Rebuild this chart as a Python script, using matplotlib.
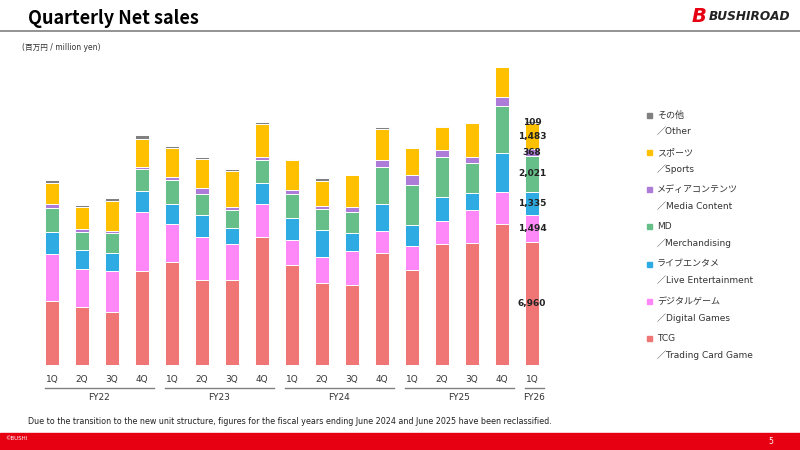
import matplotlib.pyplot as plt
from matplotlib.patches import Rectangle
import numpy as np

plt.rcParams['font.family'] = ['DejaVu Sans', 'Noto Sans CJK JP']

# quarterly net sales by segment (million yen)
quarters = ['1Q', '2Q', '3Q', '4Q'] * 4 + ['1Q']
years = ['FY22', 'FY23', 'FY24', 'FY25', 'FY26']
year_size = [4, 4, 4, 4, 1]
tcg = [3616, 3277, 3013, 5311, 5800, 4803, 4822, 7251, 5650, 4614, 4501, 6347, 5349, 6818, 6874, 7966, 6960]
digital = [2638, 2166, 2298, 3333, 2147, 2430, 1997, 1846, 1394, 1469, 1940, 1224, 1356, 1299, 1884, 1790, 1494]
live = [1243, 1055, 1017, 1205, 1130, 1224, 923, 1187, 1243, 1526, 998, 1507, 1187, 1394, 942, 2204, 1335]
md = [1390, 1017, 1130, 1224, 1375, 1205, 1017, 1299, 1356, 1187, 1205, 2109, 2279, 2242, 1714, 2675, 2021]
media = [226, 151, 132, 132, 188, 358, 188, 151, 245, 207, 264, 414, 565, 414, 358, 490, 368]
sports = [1187, 1281, 1676, 1582, 1601, 1620, 2015, 1865, 1695, 1394, 1808, 1714, 1526, 1281, 1884, 1695, 1483]
other = [170, 113, 170, 188, 113, 113, 113, 113, 30, 170, 20, 132, 0, 56, 0, 0, 109]

series = [tcg, digital, live, md, media, sports, other]
colors = ['#F07575', '#FF88F8', '#2EABE2', '#66BF88', '#AD7BD8', '#FFC000', '#808080']
names_jp = ['TCG', 'デジタルゲーム', 'ライブエンタメ', 'MD', 'メディアコンテンツ', 'スポーツ', 'その他']
names_en = ['／Trading Card Game', '／Digital Games', '／Live Entertainment', '／Merchandising',
            '／Media Content', '／Sports', '／Other']

W, H = 800, 450
fig = plt.figure(figsize=(8, 4.5), dpi=100)
ax = fig.add_axes([37 / W, 85 / H, 510 / W, 305 / H])

x = np.arange(len(quarters))
bottom = np.zeros(len(quarters))
for vals, c in zip(series, colors):
    ax.bar(x, vals, 0.48, bottom=bottom, color=c, edgecolor='white', linewidth=0.7)
    bottom += np.array(vals)

# labels on latest quarter
last = len(quarters) - 1
b = 0
for vals in series:
    v = vals[last]
    ax.text(last, b + v / 2, f'{v:,}', ha='center', va='center', fontsize=6.5,
            fontweight='bold', color='#222222')
    b += v

ax.set_xlim(-0.5, 16.5)
ax.set_ylim(0, 305 * 56.5)
ax.set_xticks(x)
ax.set_xticklabels(quarters, fontsize=6.5, color='#333333')
ax.tick_params(axis='x', length=0, pad=7)
ax.set_yticks([])
for s in ax.spines.values():
    s.set_visible(False)

# fiscal year groups under the axis
tr = ax.get_xaxis_transform()
start = 0
for yr, n in zip(years, year_size):
    x0, x1 = start - 0.25, start + n - 1 + 0.4
    ax.plot([x0, x1], [-0.075, -0.075], color='#808080', lw=1, transform=tr, clip_on=False)
    ax.text((x0 + x1) / 2, -0.105, yr, ha='center', va='center', fontsize=6.5,
            color='#333333', transform=tr)
    start += n

# legend on the right
for k in range(len(series)):
    i = len(series) - 1 - k
    yj = 115 + 37.3 * k
    fig.add_artist(Rectangle((647 / W, 1 - (yj + 2.5) / H), 5 / W, 5 / H, color=colors[i],
                             transform=fig.transFigure))
    fig.text(657 / W, 1 - yj / H, names_jp[i], fontsize=6.5, va='center', color='#333333')
    fig.text(657 / W, 1 - (yj + 16.7) / H, names_en[i], fontsize=6.5, va='center', color='#333333')

# header
fig.text(28 / W, 1 - 19 / H, 'Quarterly Net sales', fontsize=13, fontweight='bold', va='center',
         family=['Noto Sans CJK JP', 'DejaVu Sans'])
fig.add_artist(plt.Line2D([0, 1], [1 - 30.5 / H, 1 - 30.5 / H], color='#808080', lw=1.2,
                          transform=fig.transFigure))
fig.text(22 / W, 1 - 48 / H, '(百万円 / million yen)', fontsize=5.5, va='center', color='#333333')
fig.text(692 / W, 1 - 16 / H, 'B', fontsize=14, fontweight='bold', style='italic',
         color='#E60012', va='center')
fig.text(709 / W, 1 - 16 / H, 'BUSHIROAD', fontsize=8.7, fontweight='bold', style='italic',
         color='#222222', va='center')

# footnote and footer
fig.text(28 / W, 1 - 421 / H, 'Due to the transition to the new unit structure, figures for the fiscal years '
         'ending June 2024 and June 2025 have been reclassified.', fontsize=5.8, va='center', color='#222222')
fig.add_artist(Rectangle((0, 0), 1, 17 / H, color='#E60012', transform=fig.transFigure))
fig.text(5 / W, 1 - 439 / H, '©BUSHI', fontsize=4, color='white', va='center')
fig.text(768 / W, 1 - 442 / H, '5', fontsize=5.5, color='white', va='center')

plt.savefig('out.png', dpi=100)
